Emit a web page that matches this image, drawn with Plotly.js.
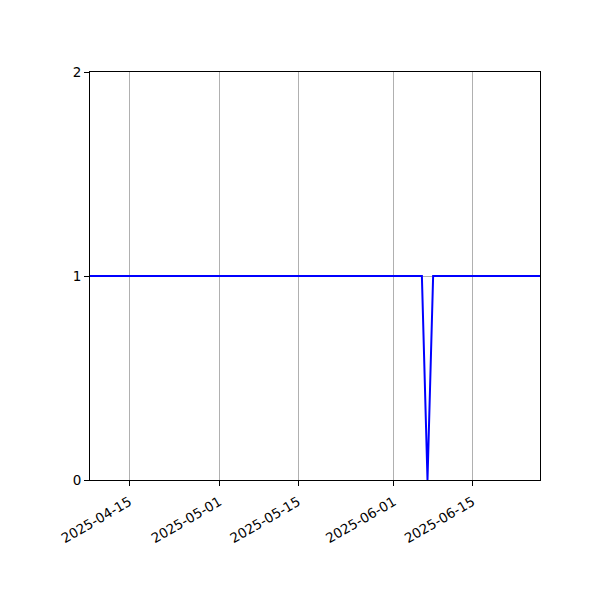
<!DOCTYPE html>
<html>
<head>
<meta charset="utf-8">
<script src="https://cdn.plot.ly/plotly-3.0.1.min.js"></script>
<style>html,body{margin:0;padding:0;background:#fff}#chart{width:600px;height:600px}</style>
</head>
<body>
<div id="chart"></div>
<script>
// values: flat at 1 with a one-day drop to 0
const dates  = ["2025-04-08","2025-06-06","2025-06-07","2025-06-08","2025-06-27"];
const values = [1, 1, 0, 1, 1];
const xTicks = ["2025-04-15","2025-05-01","2025-05-15","2025-06-01","2025-06-15"];
const yTicks = [0, 1, 2];

const axisBase = {
  showline:true, linecolor:"#000", linewidth:1, mirror:true,
  ticks:"outside", ticklen:5, tickwidth:1, tickcolor:"#000",
  gridcolor:"#b0b0b0", gridwidth:1, zeroline:false,
  tickfont:{family:"DejaVu Sans, sans-serif", size:13.5, color:"#000"}
};

const trace = {
  x:dates, y:values, mode:"lines", type:"scatter",
  line:{color:"#0000ff", width:2}, hoverinfo:"skip"
};

const layout = {
  width:600, height:600,
  margin:{l:90, r:60, t:72, b:120},
  paper_bgcolor:"#fff", plot_bgcolor:"#fff",
  showlegend:false,
  xaxis:Object.assign({}, axisBase, {
    type:"date", range:[dates[0], dates[dates.length-1]],
    tickmode:"array", tickvals:xTicks, ticktext:xTicks,
    tickangle:-30, showgrid:true, ticklabelstandoff:3
  }),
  yaxis:Object.assign({}, axisBase, {
    range:[0, 2], tickmode:"array", tickvals:yTicks, ticktext:yTicks.map(String),
    showgrid:true
  })
};

Plotly.newPlot("chart", [trace], layout, {displayModeBar:false, staticPlot:true});
</script>
</body>
</html>
